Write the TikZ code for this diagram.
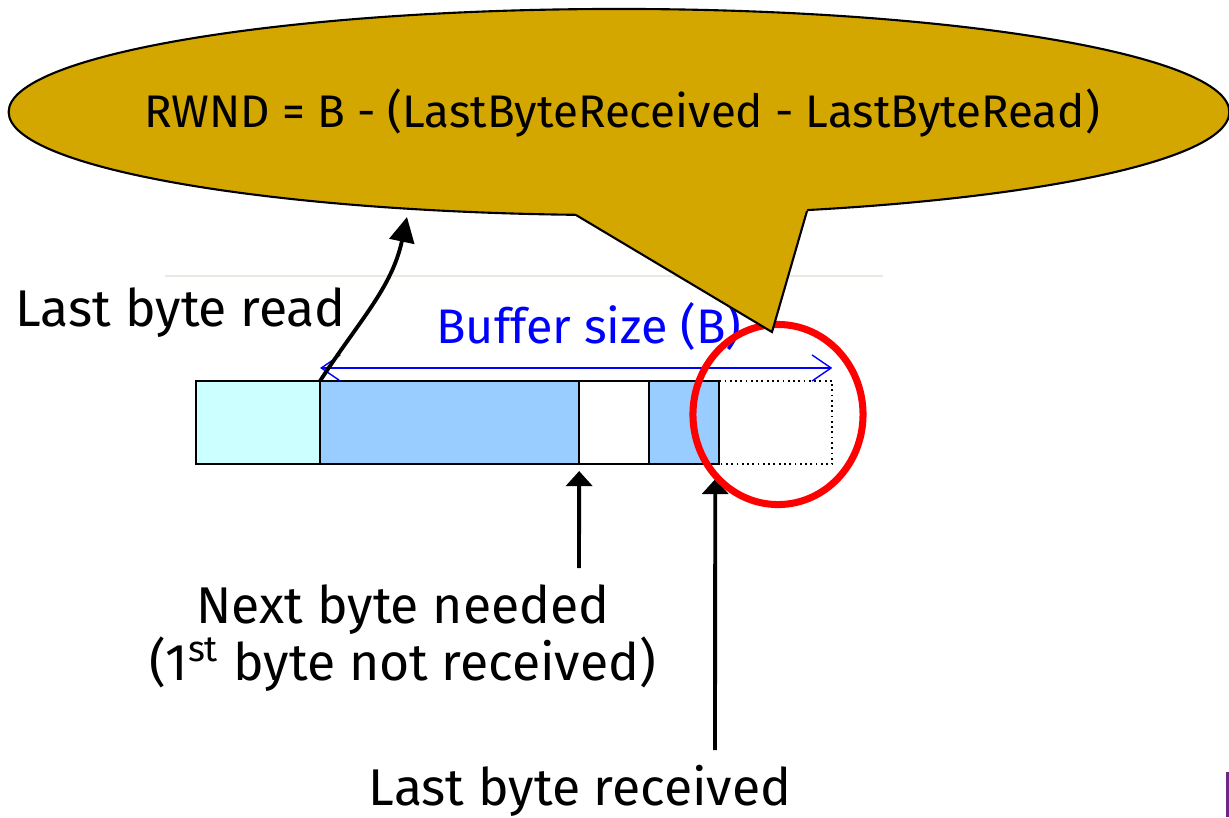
\documentclass[tikz,border=0pt]{standalone}
\usepackage{fontspec}
\setmainfont{Fira Sans}
\usepackage{tikz}
\usetikzlibrary{shapes,arrows,positioning,calc,arrows.meta}

\definecolor{bubblegold}{RGB}{212,167,0}
\definecolor{readcyan}{RGB}{204,255,255}
\definecolor{bufblue}{RGB}{153,204,255}
\definecolor{rulegray}{RGB}{236,233,224}
\definecolor{logopurple}{RGB}{110,40,130}

\tikzset{
  seg/.style={draw, line width=0.45pt, minimum height=0.83cm, inner sep=0pt, outer sep=0pt},
  uparrow/.style={-{Triangle[length=1.5mm,width=2.6mm]}, line width=1.1pt},
  lbl/.style={font=\fontsize{14.7}{17}\selectfont, inner sep=0pt},
}

\begin{document}
\begin{tikzpicture}[x=0.01cm, y=-0.01cm]
    \useasboundingbox (0,0) rectangle (1229,817);
    % faint rule of the slide
    \draw[line width=0.6pt, rulegray] (165,276) -- (883,276);

    % receive buffer
    \node[seg, fill=readcyan, minimum width=1.24cm] (s1) at (258,422.5) {};
    \node[seg, fill=bufblue, minimum width=2.59cm, right=0pt of s1] (s2) {};
    \node[seg, fill=white, minimum width=0.70cm, right=0pt of s2] (s3) {};
    \node[seg, fill=bufblue, minimum width=0.70cm, right=0pt of s3] (s4) {};
    \node[seg, draw=none, minimum width=1.13cm, right=0pt of s4] (s5) {};
    \draw[densely dotted, line width=0.5pt] (s4.north east) -- (s5.north east) -- (s5.south east) -- (s4.south east);

    % buffer size
    \draw[blue, line width=0.4pt, {Straight Barb[length=1.9mm,width=2.6mm]}-{Straight Barb[length=1.9mm,width=2.6mm]}]
        ([yshift=0.13cm]s2.north west) -- ([yshift=0.13cm]s5.north east);
    \node[lbl, blue, font=\fontsize{13.8}{16}\selectfont, anchor=base] (bufsize) at (589,343) {Buffer size (B)};

    % labels below
    \node[lbl, anchor=base west] (lastread) at (15,326) {Last byte read};
    \node[lbl, anchor=base] (nextneed) at (403,623) {Next byte needed};
    \node[lbl, anchor=base] (firstnot) at (403,680) {(1\textsuperscript{st} byte not received)};
    \node[lbl, anchor=base] (lastrecv) at (580,805) {Last byte received};

    % pointers into the buffer
    \coordinate (needfoot) at (579,568);
    \coordinate (recvfoot) at (715,750);
    \draw[uparrow] (needfoot) -- ([yshift=-0.07cm]s2.south east);
    \draw[uparrow] (recvfoot) -- ([shift={(-4,15)}]s4.south east);

    % free space
    \draw[red, line width=2pt] (778,414.5) ellipse [x radius=0.85cm, y radius=0.9cm];

    % callout
    \node[ellipse, draw, fill=bubblegold, line width=0.6pt, minimum width=12.2cm, minimum height=2.06cm, inner sep=0pt] (bubble) at (619,112) {};
    \node[lbl, font=\fontsize{13}{15}\selectfont] (formula) at (622,113) {RWND = B - (LastByteReceived - LastByteRead)};
    \coordinate (tailL) at (576,215);
    \coordinate (tailR) at (807,211);
    \coordinate (tailtip) at (772,332);
    \fill[bubblegold] (576,200) -- (tailL) -- (tailtip) -- (tailR) -- (807,200) -- cycle;
    \draw[line width=0.6pt] (tailL) -- (tailtip) -- (tailR);

    % last byte read
    \coordinate (readtip) at (407,217);
    \draw[line width=1.1pt, -{Triangle[length=2.5mm,width=2.5mm]}] (s2.north west) to[out=57, in=-102] (readtip);

    % logo edge
    \fill[logopurple] (1226,772) rectangle (1229,817);
\end{tikzpicture}
\end{document}
